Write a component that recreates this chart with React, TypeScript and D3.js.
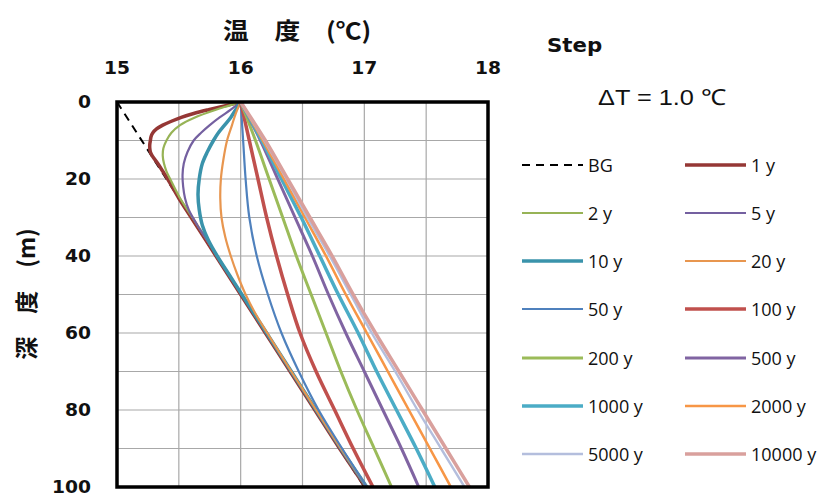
import React from "react";
import * as d3 from "d3";

// Temperature–depth profiles after a 1.0 °C surface step
const xTicks = [15, 16, 17, 18];
const yTicks = [0, 20, 40, 60, 80, 100];
const xGrid = [15.5, 16, 16.5, 17, 17.5];
const yGrid = [10, 20, 30, 40, 50, 60, 70, 80, 90];

const bgDepth = [0, 100];
const bgTemp = [15, 17];

const y1Depth = [0, 1, 2, 3, 4, 5, 6, 7, 8, 9, 10, 11, 12, 13, 14, 16, 18, 20, 25, 30, 40, 50, 60, 70, 80, 90, 100];
const y1Temp = [16, 15.87, 15.74, 15.62, 15.52, 15.44, 15.37, 15.32, 15.29, 15.275, 15.27, 15.265, 15.265, 15.27, 15.285, 15.33, 15.37, 15.41, 15.5, 15.6, 15.8, 16.0, 16.2, 16.4, 16.6, 16.8, 17.01];

const y2Depth = [0, 1, 2, 4, 6, 8, 10, 12, 14, 16, 18, 20, 25, 30, 35, 40, 50, 60, 70, 80, 90, 100];
const y2Temp = [16, 15.9, 15.8, 15.63, 15.51, 15.44, 15.4, 15.375, 15.37, 15.38, 15.4, 15.43, 15.51, 15.61, 15.71, 15.81, 16.01, 16.21, 16.41, 16.61, 16.81, 17.02];

const y5Depth = [0, 2, 4, 6, 8, 10, 13, 16, 19, 22, 25, 28, 32, 36, 40, 50, 60, 70, 80, 90, 100];
const y5Temp = [16, 15.92, 15.83, 15.75, 15.68, 15.62, 15.57, 15.54, 15.53, 15.535, 15.55, 15.58, 15.65, 15.73, 15.81, 16.01, 16.21, 16.41, 16.61, 16.81, 17.02];

const y10Depth = [0, 2, 4, 6, 8, 10, 13, 16, 20, 24, 28, 32, 36, 40, 45, 50, 60, 70, 80, 90, 100];
const y10Temp = [16, 15.96, 15.92, 15.87, 15.82, 15.78, 15.73, 15.69, 15.665, 15.655, 15.665, 15.69, 15.74, 15.81, 15.91, 16.01, 16.21, 16.41, 16.61, 16.81, 17.02];

const y20Depth = [0, 3, 6, 10, 15, 20, 25, 30, 35, 40, 45, 50, 55, 60, 70, 80, 90, 100];
const y20Temp = [16, 15.96, 15.93, 15.89, 15.86, 15.84, 15.835, 15.845, 15.875, 15.92, 15.975, 16.04, 16.12, 16.215, 16.41, 16.61, 16.81, 17.02];

const longDepth = [0, 10, 20, 30, 40, 50, 60, 70, 80, 90, 100];
const y50Temp = [16, 16.02, 16.04, 16.07, 16.13, 16.22, 16.33, 16.47, 16.63, 16.82, 17.02];
const y100Temp = [16, 16.07, 16.14, 16.21, 16.29, 16.38, 16.48, 16.61, 16.76, 16.91, 17.07];
const y200Temp = [16, 16.12, 16.23, 16.34, 16.45, 16.57, 16.69, 16.81, 16.94, 17.08, 17.22];
const y500Temp = [16, 16.16, 16.3, 16.44, 16.58, 16.71, 16.85, 17.0, 17.15, 17.3, 17.44];
const y1000Temp = [16, 16.17, 16.33, 16.49, 16.64, 16.79, 16.95, 17.1, 17.26, 17.42, 17.57];
const y2000Temp = [16, 16.18, 16.35, 16.52, 16.69, 16.85, 17.02, 17.19, 17.36, 17.53, 17.7];
const y5000Temp = [16, 16.19, 16.37, 16.54, 16.72, 16.89, 17.06, 17.25, 17.43, 17.62, 17.81];
const y10000Temp = [16, 16.2, 16.38, 16.56, 16.74, 16.91, 17.09, 17.28, 17.47, 17.66, 17.85];

type Series = {
  name: string;
  depth: number[];
  temp: number[];
  color: string;
  width: number;
  dash?: string;
};

const series: Series[] = [
  { name: "BG", depth: bgDepth, temp: bgTemp, color: "#000000", width: 2, dash: "8 6" },
  { name: "1 y", depth: y1Depth, temp: y1Temp, color: "#953735", width: 3.5 },
  { name: "2 y", depth: y2Depth, temp: y2Temp, color: "#97B356", width: 2.2 },
  { name: "5 y", depth: y5Depth, temp: y5Temp, color: "#7460A0", width: 2.2 },
  { name: "10 y", depth: y10Depth, temp: y10Temp, color: "#3A93AB", width: 3.5 },
  { name: "20 y", depth: y20Depth, temp: y20Temp, color: "#E8964F", width: 2.2 },
  { name: "50 y", depth: longDepth, temp: y50Temp, color: "#4F81BD", width: 2.2 },
  { name: "100 y", depth: longDepth, temp: y100Temp, color: "#C0504D", width: 3.5 },
  { name: "200 y", depth: longDepth, temp: y200Temp, color: "#9BBB59", width: 3 },
  { name: "500 y", depth: longDepth, temp: y500Temp, color: "#8064A2", width: 3 },
  { name: "1000 y", depth: longDepth, temp: y1000Temp, color: "#4BACC6", width: 3.5 },
  { name: "2000 y", depth: longDepth, temp: y2000Temp, color: "#F79646", width: 2.6 },
  { name: "5000 y", depth: longDepth, temp: y5000Temp, color: "#B4BEDD", width: 2.4 },
  { name: "10000 y", depth: longDepth, temp: y10000Temp, color: "#D9A09D", width: 3.5 },
];

const W = 826;
const H = 497;
const plot = { left: 117, right: 488, top: 102, bottom: 487 };

const x = d3.scaleLinear().domain([15, 18]).range([plot.left, plot.right]);
const y = d3.scaleLinear().domain([0, 100]).range([plot.top, plot.bottom]);

const line = d3
  .line<[number, number]>()
  .x((d) => x(d[1]))
  .y((d) => y(d[0]))
  .curve(d3.curveCatmullRom.alpha(0.5));

const tickFont = "'DejaVu Sans', sans-serif";
const cjkFont = "'Noto Sans CJK JP', sans-serif";
const legendFont = "'Open Sans', sans-serif";

function Wide({
  x: tx,
  y: ty,
  anchor = "start",
  sx = 1.1,
  children,
  ...rest
}: any) {
  return (
    <text
      transform={`translate(${tx},${ty}) scale(${sx},1)`}
      textAnchor={anchor}
      dominantBaseline="central"
      {...rest}
    >
      {children}
    </text>
  );
}

export default function App() {
  const legendCols = [522, 685];
  const legendRows = [165, 213, 261, 309, 358, 406, 454];
  const lineLen = 61;

  return (
    <svg
      width={W}
      height={H}
      viewBox={`0 0 ${W} ${H}`}
      style={{ position: "absolute", left: 0, top: 0, background: "#ffffff" }}
    >
      <rect x={0} y={0} width={W} height={H} fill="#ffffff" />
      <defs>
        <clipPath id="plotClip">
          <rect
            x={plot.left}
            y={plot.top}
            width={plot.right - plot.left}
            height={plot.bottom - plot.top}
          />
        </clipPath>
      </defs>

      {/* grid */}
      <g stroke="#A8A8A8" strokeWidth={1.2}>
        {xGrid.map((v) => (
          <line key={"gx" + v} x1={x(v)} x2={x(v)} y1={plot.top} y2={plot.bottom} />
        ))}
        {yGrid.map((v) => (
          <line key={"gy" + v} x1={plot.left} x2={plot.right} y1={y(v)} y2={y(v)} />
        ))}
      </g>

      {/* profiles */}
      <g clipPath="url(#plotClip)" fill="none" strokeLinejoin="round">
        {series.map((s) => (
          <path
            key={s.name}
            d={line(s.depth.map((d, i) => [d, s.temp[i]] as [number, number])) || ""}
            stroke={s.color}
            strokeWidth={s.width}
            strokeDasharray={s.dash}
            strokeLinecap={s.dash ? "butt" : "round"}
          />
        ))}
      </g>

      {/* frame */}
      <rect
        x={plot.left}
        y={plot.top}
        width={plot.right - plot.left}
        height={plot.bottom - plot.top}
        fill="none"
        stroke="#000"
        strokeWidth={3.5}
      />

      {/* tick labels */}
      <g fontFamily={tickFont} fontWeight="bold" fontSize={17} fill="#111">
        {xTicks.map((v) => (
          <Wide key={"tx" + v} x={x(v)} y={68} anchor="middle">
            {v}
          </Wide>
        ))}
        {yTicks.map((v) => (
          <Wide key={"ty" + v} x={91} y={y(v)} anchor="end">
            {v}
          </Wide>
        ))}
      </g>

      {/* axis titles */}
      <Wide x={223} y={29} sx={1.12} fontFamily={cjkFont} fontWeight="bold" fontSize={23} fill="#111">
        温　度　(℃)
      </Wide>
      <text
        transform={`translate(25, 294) rotate(-90)`}
        fontFamily={cjkFont}
        fontWeight="bold"
        fontSize={23}
        textAnchor="middle"
        dominantBaseline="central"
        fill="#111"
      >
        深　度　(m)
      </text>

      <Wide x={547} y={45} sx={1.12} fontFamily={tickFont} fontWeight="bold" fontSize={19} fill="#111">
        Step
      </Wide>
      <Wide
        x={598}
        y={98}
        sx={1.15}
        fontFamily="'Liberation Sans', sans-serif"
        fontSize={22}
        fill="#111"
      >
        ΔT = 1.0 ℃
      </Wide>

      {/* legend */}
      <g>
        {series.map((s, i) => {
          const cx = legendCols[i % 2];
          const cy = legendRows[Math.floor(i / 2)];
          return (
            <g key={"lg" + s.name}>
              <line
                x1={cx}
                x2={cx + lineLen}
                y1={cy}
                y2={cy}
                stroke={s.color}
                strokeWidth={s.width}
                strokeDasharray={s.dash}
              />
              <text
                x={cx + lineLen + 5}
                y={cy}
                fontFamily={legendFont}
                fontSize={18}
                dominantBaseline="central"
                fill="#111"
              >
                {s.name}
              </text>
            </g>
          );
        })}
      </g>
    </svg>
  );
}
